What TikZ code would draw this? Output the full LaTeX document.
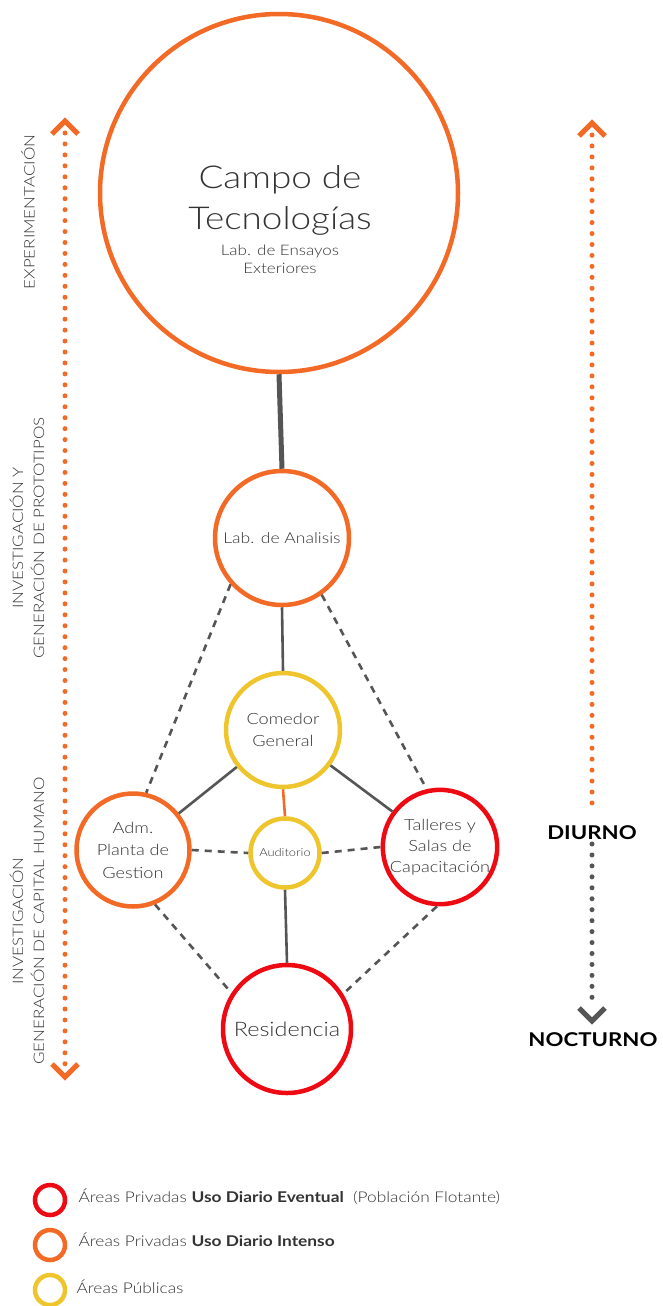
\documentclass[tikz,border=0pt]{standalone}
\usepackage{fontspec}
\setmainfont{Lato Light}[BoldFont={Lato Bold}, FakeStretch=1.17]
\definecolor{cor}{HTML}{F26A25}
\definecolor{cred}{HTML}{EE0A12}
\definecolor{cyel}{HTML}{EEC52C}
\definecolor{cgray}{HTML}{555555}
\definecolor{ctext}{HTML}{333333}
\tikzset{
  circ/.style={circle, draw, line width=4.5pt, inner sep=0pt, align=center, text=ctext},
  solidcon/.style={draw=cgray, line width=2.6pt},
  dashcon/.style={draw=cgray, line width=2.6pt, dash pattern=on 7pt off 6pt},
  dotline/.style={line width=5pt, line cap=round, dash pattern=on 0pt off 10.95pt},
  chev/.style={line width=5pt, line cap=butt, line join=miter},
  sidelbl/.style={rotate=90, align=center, text=ctext, font=\fontsize{14.5}{21}\selectfont},
  leg/.style={circle, draw, line width=4.5pt, minimum size=30pt, inner sep=0pt},
  legtxt/.style={anchor=west, text=ctext, font=\fontsize{14.8}{16}\selectfont},
}
\begin{document}
\begin{tikzpicture}[x=1pt,y=-1pt]
\useasboundingbox (0,0) rectangle (662,1306);
% circles
\node[circ, draw=cor, minimum size=358pt] (camp) at (279,193) {};
\node[text=ctext, align=center, font=\fontsize{31.5}{41}\selectfont] (campt) at (280,200) {Campo de\\Tecnologías};
\node[text=ctext, align=center, font=\fontsize{14.5}{18}\selectfont] (campsub) at (280,259) {Lab. de Ensayos\\Exteriores};
\node[circ, draw=cor, minimum size=134pt, font=\fontsize{15}{20}\selectfont] (lab) at (282,538) {Lab. de Analisis};
\node[circ, draw=cyel, minimum size=114pt, font=\fontsize{15.5}{22}\selectfont] (com) at (283,730) {Comedor\\General};
\node[circ, draw=cyel, minimum size=69pt, font=\fontsize{11}{13}\selectfont] (aud) at (285,853) {Auditorio};
\node[circ, draw=cor, minimum size=113pt, font=\fontsize{15.5}{22.5}\selectfont] (adm) at (133,850) {Adm.\\Planta de\\Gestion};
\node[circ, draw=cred, minimum size=111pt, font=\fontsize{15.5}{21}\selectfont] (tal) at (440,847) {Talleres y\\Salas de\\Capacitación};
\node[circ, draw=cred, minimum size=128pt, font=\fontsize{20}{24}\selectfont] (res) at (287,1029) {Residencia};
% connectors
\draw[draw=cgray, line width=5pt] (camp.south) -- (lab.north);
\draw[solidcon] (lab.south) -- (com.north);
\draw[solidcon] (com) -- (adm);
\draw[solidcon] (com) -- (tal);
\draw[draw=cor, line width=2.6pt] (com.south) -- (aud.north);
\draw[solidcon] (aud.south) -- (res.north);
\draw[dashcon] (lab.222) -- (adm.77);
\draw[dashcon] (lab.305) -- (tal.103);
\draw[dashcon] (adm.east) -- (aud.west);
\draw[dashcon] (aud.east) -- (tal.west);
\draw[dashcon] (adm.292) -- (res.147);
\draw[dashcon] (tal.267) -- (res.32);
% left arrow
\coordinate (ltop) at (65,121);
\coordinate (lbot) at (65,1077);
\draw[dotline, draw=cor] (65,133) -- (65,1066);
\draw[chev, draw=cor] ([xshift=-13pt,yshift=-13pt]ltop) -- (ltop) -- ([xshift=13pt,yshift=-13pt]ltop);
\draw[chev, draw=cor] ([xshift=-13pt,yshift=13pt]lbot) -- (lbot) -- ([xshift=13pt,yshift=13pt]lbot);
% right arrow
\coordinate (rtop) at (592,123);
\coordinate (rbot) at (592,1021);
\node[font=\bfseries\fontsize{19}{22}\selectfont, text=black] (diu) at (592,833) {DIURNO};
\node[font=\bfseries\fontsize{19}{22}\selectfont, text=black] (noc) at (593,1040) {NOCTURNO};
\draw[dotline, draw=cor] (592,135) -- (592,812);
\draw[dotline, draw=cgray] (592,844) -- (592,1003);
\draw[chev, draw=cor] ([xshift=-13pt,yshift=-13pt]rtop) -- (rtop) -- ([xshift=13pt,yshift=-13pt]rtop);
\draw[chev, draw=cgray] ([xshift=-13pt,yshift=13pt]rbot) -- (rbot) -- ([xshift=13pt,yshift=13pt]rbot);
% side labels
\node[sidelbl] (s1) at (28,212) {EXPERIMENTACIÓN};
\node[sidelbl] (s2) at (27,538) {INVESTIGACIÓN Y\\GENERACIÓN DE PROTOTIPOS};
\node[sidelbl] (s3) at (27,921) {INVESTIGACIÓN\\GENERACIÓN DE CAPITAL HUMANO};
% legend
\node[leg, draw=cred] (l1) at (50,1200) {};
\node[leg, draw=cor] (l2) at (50,1245) {};
\node[leg, draw=cyel] (l3) at (50,1290) {};
\node[legtxt] (t1) at (75,1197) {Áreas Privadas \textbf{Uso Diario Eventual}\ \ (Población Flotante)};
\node[legtxt] (t2) at (75,1240) {Áreas Privadas \textbf{Uso Diario Intenso}};
\node[legtxt] (t3) at (73,1287) {Áreas Públicas};
\end{tikzpicture}
\end{document}
